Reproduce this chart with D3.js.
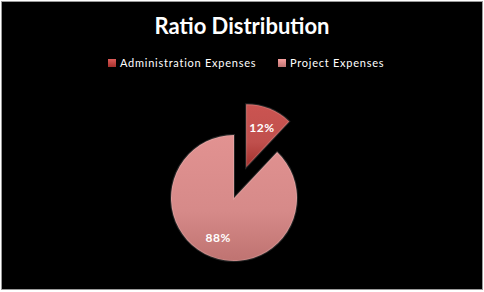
<!DOCTYPE html>
<html>
<head>
<meta charset="utf-8">
<script src="https://cdn.jsdelivr.net/npm/d3@7"></script>
<style>
    body { margin: 0; background: #fff; }
    text { font-family: Lato, "Open Sans", sans-serif; }
</style>
</head>
<body>
<div id="chart"></div>
<script>
// Chart data
const categories = ["Administration Expenses", "Project Expenses"];
const values = [12, 88];
const sliceColors = ["#c0504d", "#d68a89"];
const sliceColorsDark = ["#a5302c", "#bf7371"];
const title = "Ratio Distribution";

var width = 484, height = 292;

var svg = d3.select("#chart")
    .append("svg")
    .attr("width", width)
    .attr("height", height);

// Black panel with thin grey frame
svg.append("rect")
    .attr("x", 1.5)
    .attr("y", 1.5)
    .attr("width", width - 3)
    .attr("height", height - 4)
    .attr("fill", "#000")
    .attr("stroke", "#9a9a9a")
    .attr("stroke-width", 1);

// Gradients for a soft bevel look
var defs = svg.append("defs");
categories.forEach((c, i) => {
    var g = defs.append("linearGradient")
        .attr("id", "grad" + i)
        .attr("x1", 0).attr("y1", 0)
        .attr("x2", 0).attr("y2", 1);
    g.append("stop").attr("offset", "0%").attr("stop-color", d3.color(sliceColors[i]).brighter(0.15));
    g.append("stop").attr("offset", "60%").attr("stop-color", sliceColors[i]);
    g.append("stop").attr("offset", "100%").attr("stop-color", sliceColorsDark[i]);

    var lg = defs.append("linearGradient")
        .attr("id", "leg" + i)
        .attr("x1", 0).attr("y1", 0)
        .attr("x2", 0).attr("y2", 1);
    lg.append("stop").attr("offset", "0%").attr("stop-color", d3.color(sliceColors[i]).brighter(0.4));
    lg.append("stop").attr("offset", "100%").attr("stop-color", sliceColorsDark[i]);
});

// Title
svg.append("text")
    .attr("x", 242)
    .attr("y", 34)
    .attr("text-anchor", "middle")
    .attr("fill", "#fff")
    .style("font-size", "22px")
    .style("font-weight", "bold")
    .text(title);

// Legend
var legendX = [108, 278];
categories.forEach((c, i) => {
    svg.append("rect")
        .attr("x", legendX[i])
        .attr("y", 59)
        .attr("width", 8)
        .attr("height", 8)
        .attr("fill", "url(#leg" + i + ")");

    svg.append("text")
        .attr("x", legendX[i] + 12)
        .attr("y", 67)
        .attr("fill", "#fff")
        .style("font-size", "11px")
        .style("letter-spacing", "0.75px")
        .text(c);
});

// Pie
var cx = 234, cy = 198, radius = 63, explode = 33;

var pie = d3.pie().sort(null).value(d => d);
var arcs = pie(values);

var arc = d3.arc().innerRadius(0).outerRadius(radius);
var labelArc = d3.arc().innerRadius(radius * 0.68).outerRadius(radius * 0.68);

var pieGroup = svg.append("g")
    .attr("transform", "translate(" + cx + "," + cy + ")");

var slices = pieGroup.selectAll("g.slice")
    .data(arcs)
    .enter()
    .append("g")
    .attr("class", "slice")
    .attr("transform", function (d, i) {
        // only the small slice is pulled out
        if (i !== 0) return null;
        var mid = (d.startAngle + d.endAngle) / 2;
        return "translate(" + (Math.sin(mid) * explode) + "," + (-Math.cos(mid) * explode) + ")";
    });

slices.append("path")
    .attr("d", arc)
    .attr("fill", (d, i) => "url(#grad" + i + ")");

// inner rim to fake the bevel
slices.append("path")
    .attr("d", arc)
    .attr("fill", "none")
    .attr("stroke", "rgba(255,255,255,0.15)")
    .attr("stroke-width", 2);

slices.append("text")
    .attr("transform", d => "translate(" + labelArc.centroid(d) + ")")
    .attr("text-anchor", "middle")
    .attr("dy", "0.35em")
    .attr("fill", "#fff")
    .style("font-size", "12px")
    .style("font-weight", "bold")
    .style("letter-spacing", "0.5px")
    .text(d => d.value + "%");
</script>
</body>
</html>
